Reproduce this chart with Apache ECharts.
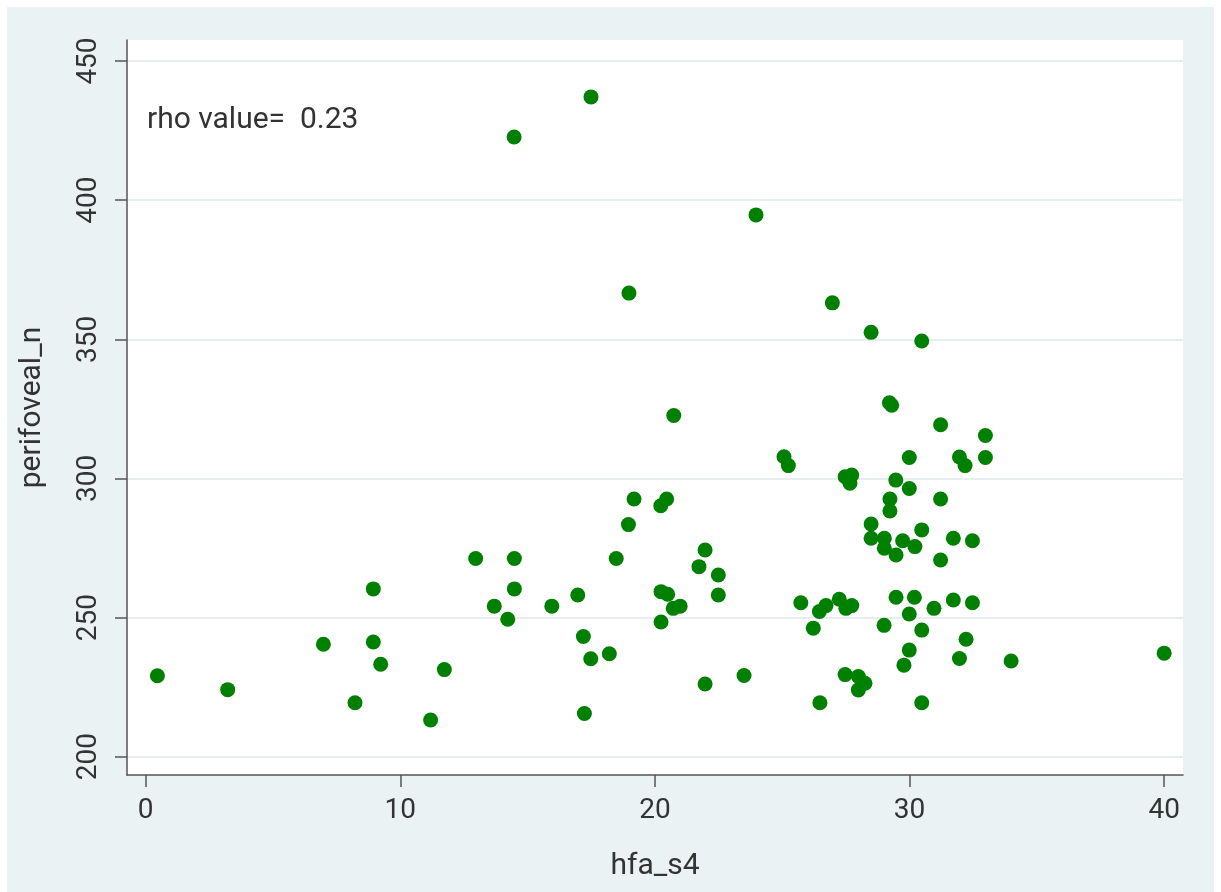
<!DOCTYPE html>
<html>
<head>
<meta charset="utf-8">
<script src="https://cdn.jsdelivr.net/npm/echarts@6/dist/echarts.min.js"></script>
<style>
  html, body { margin: 0; padding: 0; background: #ffffff; }
  #chart { position: absolute; left: 7px; top: 7px; width: 1207px; height: 885px; }
</style>
</head>
<body>
<div id="chart"></div>
<script>
// ---- data ----
const hfa_s4 = [
  0.46, 3.22, 6.98, 8.22, 8.94, 8.94, 9.23, 11.19, 11.73, 12.96,
  13.69, 14.22, 14.48, 14.48, 14.47, 15.95, 16.97, 17.19, 17.48, 18.21,
  17.23, 17.49, 18.48, 18.96, 19.18, 18.98, 20.23, 20.46, 20.74, 20.24,
  20.50, 20.72, 20.99, 20.24, 21.73, 21.97, 22.49, 22.49, 21.97, 23.50,
  23.97, 25.07, 25.24, 25.73, 26.22, 26.46, 26.72, 26.48, 26.97, 27.24,
  27.50, 27.73, 27.47, 27.73, 27.66, 27.47, 27.99, 28.25, 27.99, 28.49,
  28.49, 28.49, 29.01, 29.01, 29.00, 29.21, 29.30, 29.23, 29.23, 29.46,
  29.47, 29.47, 29.73, 29.78, 29.99, 29.99, 29.99, 29.99, 30.19, 30.21,
  30.48, 30.48, 30.48, 30.48, 30.96, 31.22, 31.22, 31.22, 31.72, 31.72,
  31.96, 32.18, 31.96, 32.22, 32.47, 32.47, 32.98, 32.98, 33.99, 40.00
];
const perifoveal_n = [
  229.1, 224.1, 240.4, 219.4, 260.3, 241.2, 233.2, 213.2, 231.3, 271.2,
  254.1, 249.4, 271.2, 260.3, 422.7, 254.1, 258.1, 243.2, 235.2, 237.0,
  215.5, 437.1, 271.2, 283.4, 292.6, 366.6, 290.2, 292.6, 322.6, 259.3,
  258.4, 253.3, 254.1, 248.4, 268.3, 274.3, 265.3, 258.1, 226.1, 229.2,
  394.7, 307.8, 304.6, 255.3, 246.2, 252.2, 254.3, 219.4, 363.1, 256.6,
  253.3, 254.3, 300.6, 301.2, 298.3, 229.5, 228.8, 226.4, 224.0, 352.5,
  283.6, 278.5, 278.5, 274.9, 247.2, 327.2, 326.3, 292.6, 288.3, 299.4,
  272.5, 257.3, 277.6, 232.9, 307.5, 296.4, 251.3, 238.3, 257.3, 275.5,
  349.4, 281.5, 245.5, 219.4, 253.3, 319.3, 292.6, 270.7, 278.5, 256.3,
  307.7, 304.6, 235.3, 242.2, 277.6, 255.3, 315.4, 307.5, 234.4, 237.2
];
const xTicks = [0, 10, 20, 30, 40];
const yTicks = [200, 250, 300, 350, 400, 450];
const xTitle = 'hfa_s4';
const yTitle = 'perifoveal_n';
const rhoValue = 0.23;

// ---- chart ----
const points = hfa_s4.map((x, i) => [x, perifoveal_n[i]]);
const chart = echarts.init(document.getElementById('chart'), null, { renderer: 'canvas' });
const FONT = 'Roboto';
const TXT = '#333333';
const AX = '#555555';
const GRID = '#E6EEF0';

chart.setOption({
  backgroundColor: '#EAF2F3',
  animation: false,
  textStyle: { fontFamily: FONT },
  grid: {
    left: 120, top: 33, width: 1056, height: 735,
    show: true, backgroundColor: '#ffffff', borderWidth: 0
  },
  xAxis: {
    type: 'value',
    min: -0.734, max: 40.74,
    name: xTitle,
    nameLocation: 'middle',
    nameGap: 76,
    nameTextStyle: { fontSize: 30, color: TXT, fontFamily: FONT },
    axisLine: { show: true, onZero: false, lineStyle: { color: AX, width: 1.5 } },
    axisTick: { show: true, length: 12, customValues: xTicks, lineStyle: { color: AX, width: 1.5 } },
    axisLabel: { customValues: xTicks, fontSize: 28, color: TXT, margin: 22, fontFamily: FONT },
    splitLine: { show: false }
  },
  yAxis: {
    type: 'value',
    min: 193.42, max: 457.55,
    name: yTitle,
    nameLocation: 'middle',
    nameGap: 80,
    nameTextStyle: { fontSize: 30, color: TXT, fontFamily: FONT },
    axisLine: { show: true, onZero: false, lineStyle: { color: AX, width: 1.5 } },
    axisTick: { show: true, length: 12, customValues: yTicks, lineStyle: { color: AX, width: 1.5 } },
    axisLabel: { customValues: yTicks, rotate: 90, fontSize: 28, color: TXT, margin: 24, fontFamily: FONT },
    splitLine: { show: true, lineStyle: { color: GRID, width: 2 } }
  },
  graphic: [{
    type: 'text',
    left: 140, top: 98,
    style: {
      text: 'rho value=  ' + rhoValue.toFixed(2),
      fontSize: 30, fontFamily: FONT, fill: TXT
    }
  }],
  series: [{
    type: 'scatter',
    data: points,
    symbol: 'circle',
    symbolSize: 15,
    itemStyle: { color: '#008000', opacity: 1 },
    emphasis: { disabled: true }
  }]
});
</script>
</body>
</html>
